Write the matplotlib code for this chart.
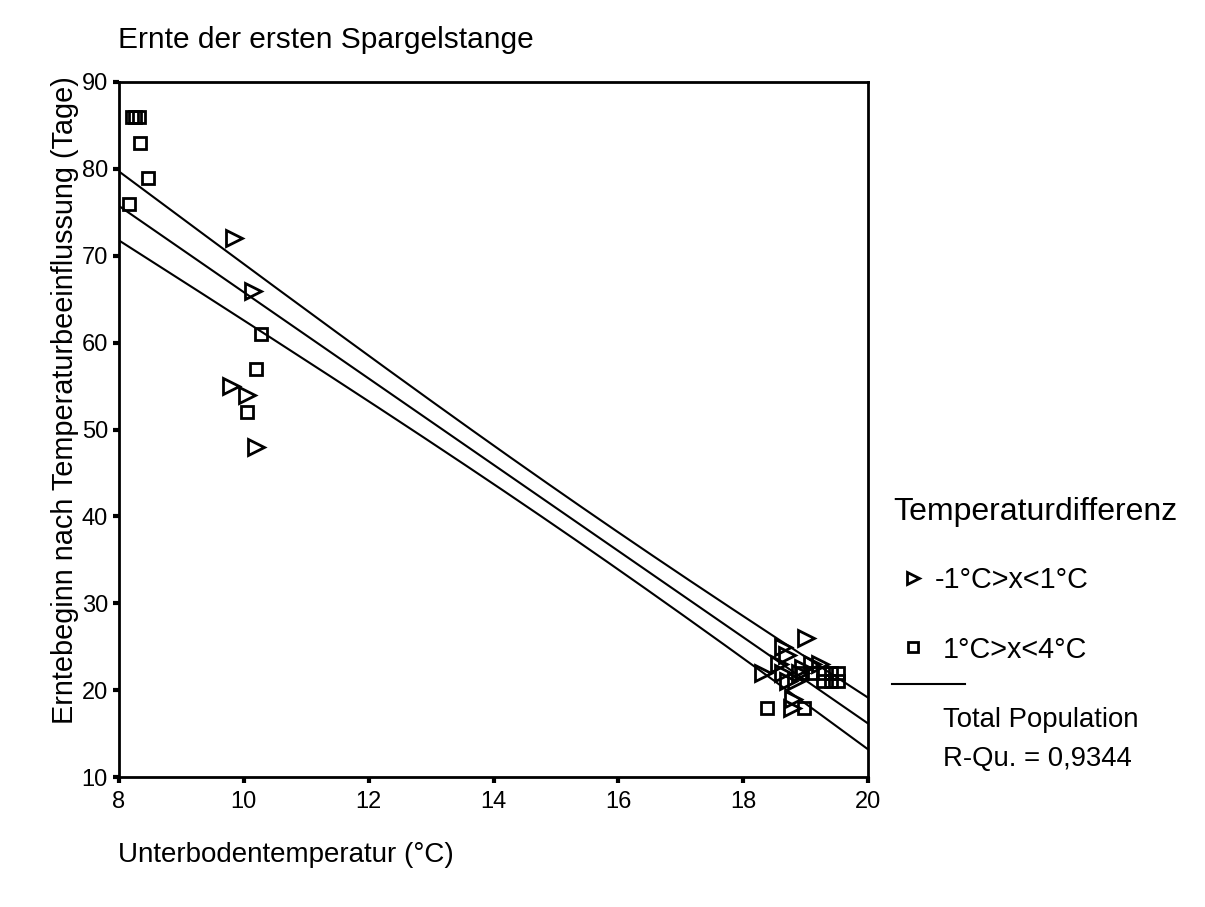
import numpy as np
import matplotlib
matplotlib.use("Agg")
import matplotlib.pyplot as plt
from matplotlib.lines import Line2D

plt.rcParams["font.family"] = ["Liberation Sans", "DejaVu Sans"]

# -1°C>x<1°C  (triangles)
tri_x = [9.84, 10.14, 9.79, 10.05, 10.19, 19.01, 18.64, 18.70, 18.57, 18.32,
         18.64, 18.72, 19.10, 19.23, 18.96, 18.91, 18.80, 18.78, 18.85]
tri_y = [72, 66, 55, 54, 48, 26, 25, 24, 23, 22,
         22, 21, 23, 23, 22.5, 22, 19, 18, 21]

# 1°C>x<4°C  (squares)
sq_x = [8.20, 8.26, 8.32, 8.34, 8.46, 8.16, 10.27, 10.19, 10.05, 18.38,
        18.98, 18.94, 19.10, 19.28, 19.40, 19.52, 19.28, 19.40, 19.52]
sq_y = [86, 86, 86, 83, 79, 76, 61, 57, 52, 18,
        18, 22, 22, 22, 22, 22, 21, 21, 21]

x_ticks = [8, 10, 12, 14, 16, 18, 20]
y_ticks = [10, 20, 30, 40, 50, 60, 70, 80, 90]

# linear fit over the whole population with 95% band of the mean
x_all = np.array(tri_x + sq_x)
y_all = np.array(tri_y + sq_y)
n = len(x_all)
slope, intercept = np.polyfit(x_all, y_all, 1)
resid = y_all - (intercept + slope * x_all)
s = np.sqrt(np.sum(resid ** 2) / (n - 2))
xm = x_all.mean()
sxx = np.sum((x_all - xm) ** 2)
xs = np.linspace(8, 20, 200)
ys = intercept + slope * xs
half = 2.01 * s * np.sqrt(1 / n + (xs - xm) ** 2 / sxx)

fig = plt.figure(figsize=(12.05, 9.07), dpi=100)
ax = fig.add_axes([0.0988, 0.1433, 0.6215, 0.7663])

ax.plot(xs, ys, color="black", lw=1.5)
ax.plot(xs, ys + half, color="black", lw=1.5)
ax.plot(xs, ys - half, color="black", lw=1.5)

ax.plot(tri_x, tri_y, ">", ms=11, mfc="none", mec="black", mew=2, ls="none", clip_on=False)
ax.plot(sq_x, sq_y, "s", ms=8, mfc="none", mec="black", mew=2, ls="none", clip_on=False)

ax.set_xlim(8, 20)
ax.set_ylim(10, 90)
ax.set_xticks(x_ticks)
ax.set_yticks(y_ticks)
ax.tick_params(direction="out", length=4, width=3, labelsize=17)
ax.tick_params(axis="y", pad=4)
ax.tick_params(axis="x", pad=6)
for sp in ax.spines.values():
    sp.set_linewidth(2)

fig.text(65 / 1205, 1 - 400 / 907, "Erntebeginn nach Temperaturbeeinflussung (Tage)",
         fontsize=20.8, rotation=90, va="center", ha="center")

fig.text(118 / 1205, 1 - 40 / 907, "Ernte der ersten Spargelstange", fontsize=21.5, va="center", ha="left")
fig.text(118 / 1205, 1 - 855 / 907, "Unterbodentemperatur (°C)", fontsize=20, va="center", ha="left")

# legend, drawn by hand
fig.text(893 / 1205, 1 - 512 / 907, "Temperaturdifferenz", fontsize=23, va="center", ha="left")
fig.add_artist(Line2D([913 / 1205], [1 - 578 / 907], marker=">", ms=9, mfc="none",
                      mec="black", mew=2, transform=fig.transFigure))
fig.text(935 / 1205, 1 - 580 / 907, "-1°C>x<1°C", fontsize=20.7, va="center", ha="left")
fig.add_artist(Line2D([913 / 1205], [1 - 647 / 907], marker="s", ms=6.5, mfc="none",
                      mec="black", mew=2, transform=fig.transFigure))
fig.text(943 / 1205, 1 - 650 / 907, "1°C>x<4°C", fontsize=20.7, va="center", ha="left")
fig.add_artist(Line2D([892 / 1205, 965 / 1205], [1 - 684 / 907, 1 - 684 / 907],
                      color="black", lw=1.5, transform=fig.transFigure))
fig.text(943 / 1205, 1 - 720 / 907, "Total Population", fontsize=19.8, va="center", ha="left")
fig.text(943 / 1205, 1 - 759 / 907, "R-Qu. = 0,9344", fontsize=19.8, va="center", ha="left")

fig.savefig("out.png", dpi=100)
